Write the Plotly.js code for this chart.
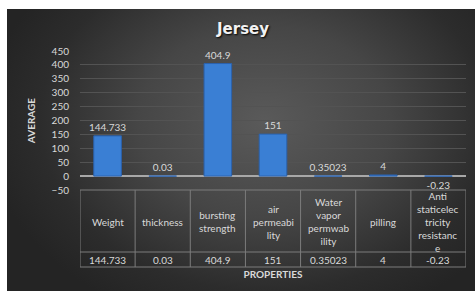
<!DOCTYPE html>
<html>
<head>
<meta charset="utf-8">
<script src="https://cdn.plot.ly/plotly-3.0.1.min.js"></script>
<style>
html,body{margin:0;padding:0;background:#fff;}
#chart{width:475px;height:291px;
background-color:#fff;
background-image:radial-gradient(ellipse 60% 75% at 55% 40%, #5a5a5a 0%, #464646 45%, #2c2c2c 80%, #242424 100%);
background-position:7px 9px;background-size:468px 282px;background-repeat:no-repeat;}
</style>
</head>
<body>
<div id="chart"></div>
<script>
const categories = ["Weight","thickness","bursting strength","air permeability","Water vapor permwability","pilling","Anti staticelectricity resistance"];
const headerLabels = ["Weight","thickness","bursting<br>strength","air<br>permeabi<br>lity","Water<br>vapor<br>permwab<br>ility","pilling","Anti<br>staticelec<br>tricity<br>resistanc<br>e"];
const values = [144.733, 0.03, 404.9, 151, 0.35023, 4, -0.23];
const seriesName = "Series1";
const yTicks = [-50,0,50,100,150,200,250,300,350,400,450];

const txt = '#d9d9d9';
const lineC = '#7c7c7c';
const font = 'Lato, "Liberation Sans", sans-serif';

// plot area: y from 51 to 190 px (139 px)
const H = 139;
const pyOf = px => -(px - 190) / H;   // paper y for pixel below plot
const yHeadBot = pyOf(252), yRowBot = pyOf(267);
const xLeg = -0.5 - (80 - 29) / (386 / 7);

const shapes = [];
const annotations = [];
shapes.push({type:'line', xref:'x', yref:'paper', x0:-0.5, x1:categories.length-0.5, y0:0, y1:0, line:{color:lineC,width:1}});
shapes.push({type:'line', xref:'x', yref:'paper', x0:xLeg, x1:categories.length-0.5, y0:yHeadBot, y1:yHeadBot, line:{color:lineC,width:1}});
shapes.push({type:'line', xref:'x', yref:'paper', x0:xLeg, x1:categories.length-0.5, y0:yRowBot, y1:yRowBot, line:{color:lineC,width:1}});
shapes.push({type:'line', xref:'x', yref:'paper', x0:xLeg, x1:xLeg, y0:yHeadBot, y1:yRowBot, line:{color:lineC,width:1}});
for (let i = 0; i <= categories.length; i++) {
  shapes.push({type:'line', xref:'x', yref:'paper', x0:i-0.5, x1:i-0.5, y0:0, y1:yRowBot, line:{color:lineC,width:1}});
}
categories.forEach((c, i) => {
  annotations.push({xref:'x', yref:'paper', x:categories[i], y:pyOf(221.5), text:headerLabels[i], showarrow:false,
    font:{family:font, size:10, color:txt}, align:'center', yanchor:'middle'});
  annotations.push({xref:'x', yref:'paper', x:categories[i], y:pyOf(259.5), text:String(values[i]), showarrow:false,
    font:{family:font, size:10, color:txt}, yanchor:'middle'});
});
const keyX = xLeg + (35.5 - 29) / (386 / 7);
shapes.push({type:'rect', xref:'x', yref:'paper', x0:keyX-0.05, x1:keyX+0.05, y0:pyOf(262.5), y1:pyOf(256.5), fillcolor:'#3a7fd4', line:{color:'#9cc3f0',width:0.5}});
annotations.push({xref:'x', yref:'paper', x:keyX+0.09, y:pyOf(259.5), text:seriesName, showarrow:false, xanchor:'left', yanchor:'middle',
  font:{family:font, size:10, color:txt}});

const data = [{
  type:'bar', x:categories, y:values, name:seriesName,
  text:values.map(String), textposition:'outside', cliponaxis:false, constraintext:'none',
  textfont:{family:font, size:10, color:txt},
  marker:{color:'#3a7fd4', line:{color:'#2b62ad', width:1}},
  width:0.5, showlegend:false
}];

const layout = {
  width:475, height:291,
  margin:{l:80, r:9, t:51, b:101},
  paper_bgcolor:'rgba(0,0,0,0)', plot_bgcolor:'rgba(0,0,0,0)',
  title:{text:'Jersey', font:{family:'"DejaVu Sans", sans-serif', size:15, color:'#f2f2f2', weight:'bold', shadow:'1px 1px 2px #000'},
    xref:'container', x:243/475, xanchor:'center', yref:'container', y:1-29/291, yanchor:'middle'},
  xaxis:{type:'category', range:[-0.5, categories.length-0.5], showticklabels:false, showgrid:false, zeroline:false, showline:false, ticks:'', fixedrange:true,
    title:{text:'PROPERTIES', font:{family:font, size:10, color:txt, weight:'bold'}, standoff:80}},
  yaxis:{range:[-50,450], tickvals:yTicks, ticks:'', ticklabelstandoff:10,
    tickfont:{family:font, size:10, color:txt},
    showgrid:true, gridcolor:'#535353', gridwidth:1,
    zeroline:true, zerolinecolor:'#a8a8a8', zerolinewidth:1.5, showline:false,
    title:{text:'AVERAGE', font:{family:font, size:10, color:txt, weight:'bold'}, standoff:14}},
  shapes:shapes, annotations:annotations, showlegend:false
};
Plotly.newPlot('chart', data, layout, {displayModeBar:false, staticPlot:true});
</script>
</body>
</html>
